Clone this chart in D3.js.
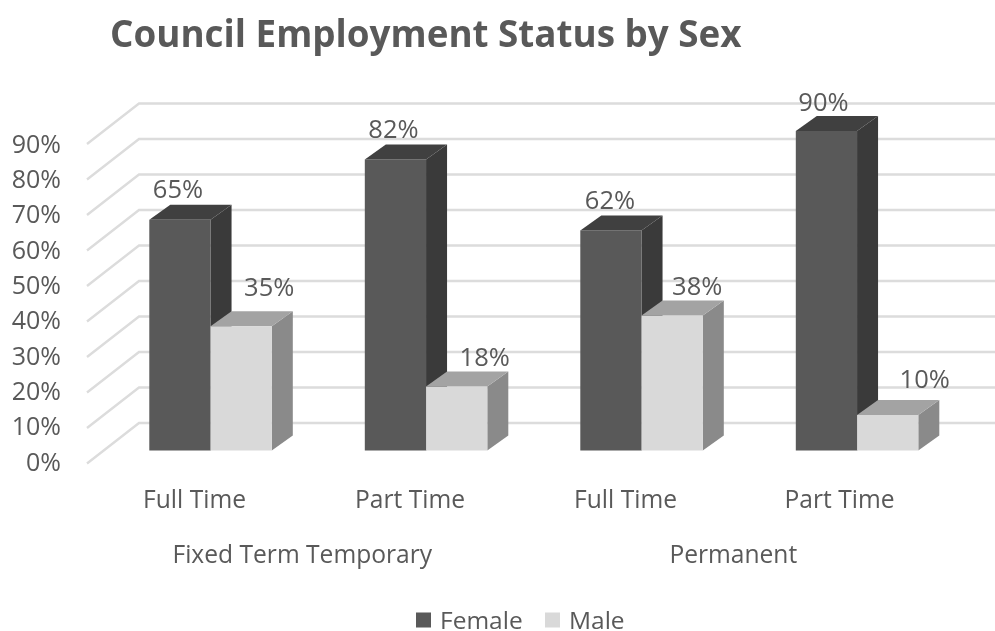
<!DOCTYPE html>
<html><head><meta charset="utf-8">
<script src="https://cdn.jsdelivr.net/npm/d3@7/dist/d3.min.js"></script>
<style>html,body{margin:0;background:#fff;overflow:hidden}svg{display:block;filter:blur(0.5px)}text{font-family:"Open Sans",sans-serif}</style>
</head><body><svg id="c" width="995" height="631"></svg>
<script>
const chartTitle = "Council Employment Status by Sex";
const categories = ["Full Time","Part Time","Full Time","Part Time"];
const groups = ["Fixed Term Temporary","Permanent"];
const seriesNames = ["Female","Male"];
const female = [65,82,62,90];
const male = [35,18,38,10];
const yTicks = [0,10,20,30,40,50,60,70,80,90];
const colors = {Female:{front:"#595959",top:"#404040",side:"#3a3a3a"},Male:{front:"#d9d9d9",top:"#a3a3a3",side:"#8a8a8a"}};

const svg = d3.select("#c");
const W=995,H=631, textCol="#595959";
const depth={x:21,y:-15}, wall={x:52,y:-40.5};
const y = d3.scaleLinear().domain([0,90]).range([450.5,131]);
const yLabels = d3.scaleLinear().domain([0,90]).range([462,144]);
const x0 = d3.scaleBand().domain(d3.range(categories.length)).range([102.8,964.8]);
const x1 = d3.scaleBand().domain(seriesNames).range([0,122.5]);
const barStart = i => x0(i)+(x0.bandwidth()-x1.bandwidth()*2)/2;

const wx=87, wy0=13;
const grid = svg.append("g").attr("fill","none").attr("stroke","#dcdcdc").attr("stroke-width",2.4);
grid.selectAll("path").data(yTicks).join("path")
  .attr("d",d=>{const p=y(d)+wy0;return `M${wx},${p}L${wx+wall.x},${p+wall.y}L${W},${p+wall.y}`;});

const axis = svg.append("g").attr("transform","translate(61,0)")
  .call(d3.axisLeft(yLabels).tickValues(yTicks).tickSize(0).tickPadding(0).tickFormat(d=>d+"%"));
axis.select(".domain").remove();
axis.selectAll("text").attr("font-size",25).attr("fill",textCol).attr("font-family",'"Open Sans",sans-serif')
  .attr("dy","0.32em");

const rows = categories.flatMap((c,i)=>[{i,s:"Female",v:female[i]},{i,s:"Male",v:male[i]}]);
const bars = svg.append("g");
rows.forEach(d=>{
  const xl=barStart(d.i)+x1(d.s), w=x1.bandwidth(), yt=y(d.v), yb=y(0), c=colors[d.s];
  const g=bars.append("g");
  g.append("path").attr("fill",c.side).attr("d",`M${xl+w},${yt}l${depth.x},${depth.y}L${xl+w+depth.x},${yb+depth.y}L${xl+w},${yb}Z`);
  g.append("path").attr("fill",c.top).attr("d",`M${xl},${yt}l${depth.x},${depth.y}h${w}l${-depth.x},${-depth.y}Z`);
  g.append("rect").attr("x",xl).attr("y",yt).attr("width",w).attr("height",yb-yt).attr("fill",c.front);
});
// data-label placement offsets, per category, from the bar's top centre
const labelDx = {Female:[-2,-2,-1,-3],Male:[28,28,25,37]};
const labelDy = {Female:[-22,-21,-21,-20],Male:[-30,-21,-21,-27]};
svg.append("g").selectAll("text").data(rows).join("text")
  .attr("x",d=>barStart(d.i)+x1(d.s)+x1.bandwidth()/2+labelDx[d.s][d.i])
  .attr("y",d=>y(d.v)+labelDy[d.s][d.i])
  .attr("text-anchor","middle").attr("font-size",25.5).attr("fill",textCol)
  .text(d=>d.v+"%");

const catDx=[-16,-16,-16,-17.5];
svg.append("g").selectAll("text").data(categories).join("text")
  .attr("x",(d,i)=>x0(i)+x0.bandwidth()/2+catDx[i]).attr("y",508)
  .attr("text-anchor","middle").attr("font-size",24.6).attr("fill",textCol).text(d=>d);
const groupDx=[-16,-16];
svg.append("g").selectAll("text").data(groups).join("text")
  .attr("x",(d,i)=>x0(i*2)+x0.bandwidth()+groupDx[i]).attr("y",563)
  .attr("text-anchor","middle").attr("font-size",24.6).attr("fill",textCol).text(d=>d);

svg.append("text").attr("x",110).attr("y",47).attr("font-size",36.8).attr("font-weight",700).attr("fill","#595959").text(chartTitle);

const legX=d3.scaleOrdinal().domain(seriesNames).range([416,545]);
const leg=svg.append("g").selectAll("g").data(seriesNames).join("g").attr("transform",d=>`translate(${legX(d)},612.5)`);
leg.append("rect").attr("width",15).attr("height",15).attr("fill",d=>colors[d].front);
leg.append("text").attr("x",24).attr("y",16).attr("font-size",24.5).attr("fill",textCol).text(d=>d);
</script></body></html>
